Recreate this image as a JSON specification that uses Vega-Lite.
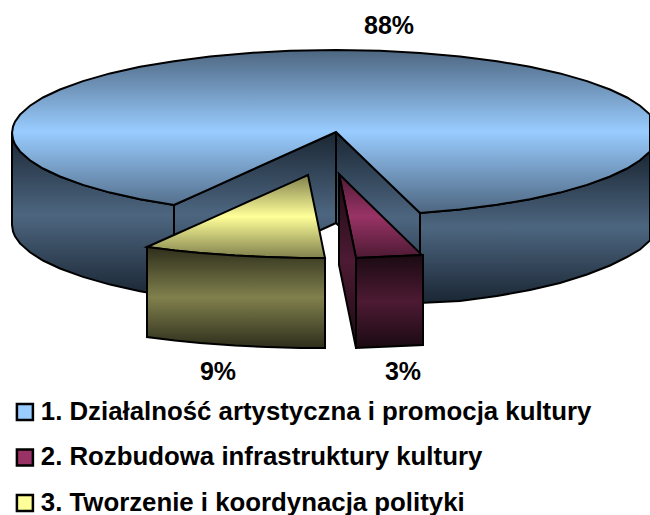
{
"$schema":"https://vega.github.io/schema/vega-lite/v6.json",
"width":650,"height":515,"padding":0,"autosize":{"type":"none"},"background":"white",
"config":{"view":{"stroke":null}},
"datasets":{
"shapes":[
{"part":"outer-left","x":12,"y":133,"y2":225},{"part":"outer-left","x":13,"y":139.5,"y2":231.5},{"part":"outer-left","x":15,"y":144.3,"y2":236.3},{"part":"outer-left","x":20,"y":151.4,"y2":243.4},{"part":"outer-left","x":30,"y":160.3,"y2":252.3},{"part":"outer-left","x":43,"y":168.5,"y2":260.5},{"part":"outer-left","x":60,"y":176.5,"y2":268.5},{"part":"outer-left","x":83,"y":184.9,"y2":276.9},{"part":"outer-left","x":110,"y":192.6,"y2":284.6},{"part":"outer-left","x":140,"y":199.2,"y2":291.2},{"part":"outer-left","x":174,"y":205,"y2":297},
{"part":"outer-right","x":420,"y":213,"y2":303},{"part":"outer-right","x":460,"y":209.5,"y2":301},{"part":"outer-right","x":497,"y":204.8,"y2":296},{"part":"outer-right","x":530,"y":199.2,"y2":290},{"part":"outer-right","x":560,"y":192.6,"y2":283},{"part":"outer-right","x":587,"y":184.9,"y2":274.5},{"part":"outer-right","x":610,"y":176.5,"y2":265.5},{"part":"outer-right","x":627,"y":168.5,"y2":257},{"part":"outer-right","x":640,"y":160.3,"y2":249.5},{"part":"outer-right","x":650,"y":151.4,"y2":240.5},
{"part":"inner-left","x":174,"y":205,"y2":297},{"part":"inner-left","x":336,"y":132,"y2":223},
{"part":"inner-right","x":336,"y":132,"y2":223},{"part":"inner-right","x":420,"y":213,"y2":303},
{"part":"top","series":"1. Działalność artystyczna i promocja kultury","x":12,"y":133,"y2":133},{"part":"top","series":"1. Działalność artystyczna i promocja kultury","x":13,"y":126.5,"y2":139.5},{"part":"top","series":"1. Działalność artystyczna i promocja kultury","x":15,"y":121.7,"y2":144.3},{"part":"top","series":"1. Działalność artystyczna i promocja kultury","x":20,"y":114.6,"y2":151.4},{"part":"top","series":"1. Działalność artystyczna i promocja kultury","x":30,"y":105.7,"y2":160.3},{"part":"top","series":"1. Działalność artystyczna i promocja kultury","x":43,"y":97.5,"y2":168.5},{"part":"top","series":"1. Działalność artystyczna i promocja kultury","x":60,"y":89.5,"y2":176.5},{"part":"top","series":"1. Działalność artystyczna i promocja kultury","x":83,"y":81.1,"y2":184.9},{"part":"top","series":"1. Działalność artystyczna i promocja kultury","x":110,"y":73.4,"y2":192.6},{"part":"top","series":"1. Działalność artystyczna i promocja kultury","x":140,"y":66.8,"y2":199.2},{"part":"top","series":"1. Działalność artystyczna i promocja kultury","x":174,"y":61.2,"y2":205},{"part":"top","series":"1. Działalność artystyczna i promocja kultury","x":210,"y":56.5,"y2":188.9},{"part":"top","series":"1. Działalność artystyczna i promocja kultury","x":250,"y":52.9,"y2":170.7},{"part":"top","series":"1. Działalność artystyczna i promocja kultury","x":290,"y":50.8,"y2":152.7},{"part":"top","series":"1. Działalność artystyczna i promocja kultury","x":336,"y":50,"y2":132},{"part":"top","series":"1. Działalność artystyczna i promocja kultury","x":380,"y":50.8,"y2":174.4},{"part":"top","series":"1. Działalność artystyczna i promocja kultury","x":420,"y":52.9,"y2":213},{"part":"top","series":"1. Działalność artystyczna i promocja kultury","x":460,"y":56.5,"y2":209.5},{"part":"top","series":"1. Działalność artystyczna i promocja kultury","x":497,"y":61.2,"y2":204.8},{"part":"top","series":"1. Działalność artystyczna i promocja kultury","x":530,"y":66.8,"y2":199.2},{"part":"top","series":"1. Działalność artystyczna i promocja kultury","x":560,"y":73.4,"y2":192.6},{"part":"top","series":"1. Działalność artystyczna i promocja kultury","x":587,"y":81.1,"y2":184.9},{"part":"top","series":"1. Działalność artystyczna i promocja kultury","x":610,"y":89.5,"y2":176.5},{"part":"top","series":"1. Działalność artystyczna i promocja kultury","x":627,"y":97.5,"y2":168.5},{"part":"top","series":"1. Działalność artystyczna i promocja kultury","x":640,"y":105.7,"y2":160.3},{"part":"top","series":"1. Działalność artystyczna i promocja kultury","x":650,"y":114.6,"y2":151.4},
{"part":"top","series":"3. Tworzenie i koordynacja polityki","x":147,"y":247,"y2":247},{"part":"top","series":"3. Tworzenie i koordynacja polityki","x":175,"y":234.5,"y2":250.5},{"part":"top","series":"3. Tworzenie i koordynacja polityki","x":200,"y":223.3,"y2":253},{"part":"top","series":"3. Tworzenie i koordynacja polityki","x":235,"y":207.6,"y2":255.5},{"part":"top","series":"3. Tworzenie i koordynacja polityki","x":267,"y":193.3,"y2":257},{"part":"top","series":"3. Tworzenie i koordynacja polityki","x":300,"y":178.6,"y2":258},{"part":"top","series":"3. Tworzenie i koordynacja polityki","x":308,"y":175,"y2":258},{"part":"top","series":"3. Tworzenie i koordynacja polityki","x":325,"y":258,"y2":258},
{"part":"top","series":"2. Rozbudowa infrastruktury kultury","x":339,"y":174,"y2":174},{"part":"top","series":"2. Rozbudowa infrastruktury kultury","x":356,"y":190.7,"y2":258},{"part":"top","series":"2. Rozbudowa infrastruktury kultury","x":422,"y":255,"y2":255},
{"part":"yellow-wall","x":147,"y":247,"y2":337},{"part":"yellow-wall","x":175,"y":250.5,"y2":340.5},{"part":"yellow-wall","x":200,"y":253,"y2":343},{"part":"yellow-wall","x":235,"y":255.5,"y2":345.5},{"part":"yellow-wall","x":267,"y":257,"y2":347},{"part":"yellow-wall","x":300,"y":258,"y2":348},{"part":"yellow-wall","x":325,"y":258,"y2":348},
{"part":"maroon-side","x":339,"y":174,"y2":265},{"part":"maroon-side","x":356,"y":258,"y2":348},
{"part":"maroon-front","x":356,"y":258,"y2":348},{"part":"maroon-front","x":390,"y":256.5,"y2":346.5},{"part":"maroon-front","x":423,"y":255,"y2":345}
],
"labels":[{"label":"88%","x":389,"y":26},{"label":"9%","x":218,"y":372},{"label":"3%","x":403,"y":372}]
},
"layer":[
{"data":{"name":"shapes"},"transform":[{"filter":"indexof(['outer-left','outer-right','inner-left','inner-right'],datum.part)>=0"}],
 "mark":{"type":"area","stroke":"black","strokeWidth":2,"color":{"gradient":"linear","x1":0,"x2":0,"y1":0,"y2":1,"stops":[{"offset":0,"color":"#1a2633"},{"offset":0.5,"color":"#4d6680"},{"offset":1,"color":"#1a2633"}]}},
 "encoding":{"x":{"field":"x","type":"quantitative","scale":{"domain":[0,650]},"axis":null},"y":{"field":"y","type":"quantitative","scale":{"domain":[515,0]},"axis":null,"stack":null},"y2":{"field":"y2"},"detail":{"field":"part"}}},
{"data":{"name":"shapes"},"transform":[{"filter":"datum.part==='top'"}],
 "mark":{"type":"area"},
 "encoding":{"x":{"field":"x","type":"quantitative","scale":{"domain":[0,650]},"axis":null},"y":{"field":"y","type":"quantitative","scale":{"domain":[515,0]},"axis":null,"stack":null},"y2":{"field":"y2"},
  "color":{"field":"series","type":"nominal","scale":{"domain":["1. Działalność artystyczna i promocja kultury","2. Rozbudowa infrastruktury kultury","3. Tworzenie i koordynacja polityki"],"range":["#99ccff","#993366","#ffff99"]},
  "legend":{"orient":"none","legendX":12,"legendY":399,"title":null,"symbolType":"square","symbolSize":256,"symbolStrokeColor":"black","symbolStrokeWidth":2.5,"labelFont":"Liberation Sans","labelFontWeight":"bold","labelFontSize":25.8,"labelColor":"black","labelLimit":640,"rowPadding":18.5,"labelOffset":3,"symbolOpacity":1,
   "encoding":{"symbols":{"update":{"fill":{"signal":"{gradient:'linear',x1:0,x2:0,y1:0,y2:1,stops:[{offset:0,color:datum.value[0]==='1'?'#4d6680':datum.value[0]==='2'?'#4d1a33':'#80804d'},{offset:0.5,color:datum.value[0]==='1'?'#99ccff':datum.value[0]==='2'?'#993366':'#ffff99'},{offset:1,color:datum.value[0]==='1'?'#4d6680':datum.value[0]==='2'?'#4d1a33':'#80804d'}]}"}}}}}}}},
{"data":{"name":"shapes"},"transform":[{"filter":"datum.part==='top' && datum.series[0]==='1'"}],
 "mark":{"type":"area","stroke":"black","strokeWidth":2,"color":{"gradient":"linear","x1":0,"x2":0,"y1":0,"y2":1,"stops":[{"offset":0,"color":"#4d6680"},{"offset":0.5,"color":"#99ccff"},{"offset":1,"color":"#4d6680"}]}},
 "encoding":{"x":{"field":"x","type":"quantitative","scale":{"domain":[0,650]},"axis":null},"y":{"field":"y","type":"quantitative","scale":{"domain":[515,0]},"axis":null,"stack":null},"y2":{"field":"y2"}}},
{"data":{"name":"shapes"},"transform":[{"filter":"datum.part==='top' && datum.series[0]==='3'"}],
 "mark":{"type":"area","stroke":"black","strokeWidth":2,"color":{"gradient":"linear","x1":0,"x2":0,"y1":0,"y2":1,"stops":[{"offset":0,"color":"#80804d"},{"offset":0.5,"color":"#ffff99"},{"offset":1,"color":"#80804d"}]}},
 "encoding":{"x":{"field":"x","type":"quantitative","scale":{"domain":[0,650]},"axis":null},"y":{"field":"y","type":"quantitative","scale":{"domain":[515,0]},"axis":null,"stack":null},"y2":{"field":"y2"}}},
{"data":{"name":"shapes"},"transform":[{"filter":"datum.part==='top' && datum.series[0]==='2'"}],
 "mark":{"type":"area","stroke":"black","strokeWidth":2,"color":{"gradient":"linear","x1":0,"x2":0,"y1":0,"y2":1,"stops":[{"offset":0,"color":"#4d1a33"},{"offset":0.5,"color":"#993366"},{"offset":1,"color":"#4d1a33"}]}},
 "encoding":{"x":{"field":"x","type":"quantitative","scale":{"domain":[0,650]},"axis":null},"y":{"field":"y","type":"quantitative","scale":{"domain":[515,0]},"axis":null,"stack":null},"y2":{"field":"y2"}}},
{"data":{"name":"shapes"},"transform":[{"filter":"datum.part==='yellow-wall'"}],
 "mark":{"type":"area","stroke":"black","strokeWidth":2,"color":{"gradient":"linear","x1":0,"x2":0,"y1":0,"y2":1,"stops":[{"offset":0,"color":"#2e2e1c"},{"offset":0.5,"color":"#80804d"},{"offset":1,"color":"#2e2e1c"}]}},
 "encoding":{"x":{"field":"x","type":"quantitative","scale":{"domain":[0,650]},"axis":null},"y":{"field":"y","type":"quantitative","scale":{"domain":[515,0]},"axis":null,"stack":null},"y2":{"field":"y2"}}},
{"data":{"name":"shapes"},"transform":[{"filter":"datum.part==='maroon-side' || datum.part==='maroon-front'"}],
 "mark":{"type":"area","stroke":"black","strokeWidth":2,"color":{"gradient":"linear","x1":0,"x2":0,"y1":0,"y2":1,"stops":[{"offset":0,"color":"#1a0a12"},{"offset":0.5,"color":"#4d1a33"},{"offset":1,"color":"#1a0a12"}]}},
 "encoding":{"x":{"field":"x","type":"quantitative","scale":{"domain":[0,650]},"axis":null},"y":{"field":"y","type":"quantitative","scale":{"domain":[515,0]},"axis":null,"stack":null},"y2":{"field":"y2"},"detail":{"field":"part"}}},
{"data":{"name":"labels"},
 "mark":{"type":"text","font":"Liberation Sans","fontWeight":"bold","fontSize":25,"color":"black","align":"center","baseline":"middle"},
 "encoding":{"x":{"field":"x","type":"quantitative","scale":{"domain":[0,650]},"axis":null},"y":{"field":"y","type":"quantitative","scale":{"domain":[515,0]},"axis":null},"text":{"field":"label"}}}
]
}
